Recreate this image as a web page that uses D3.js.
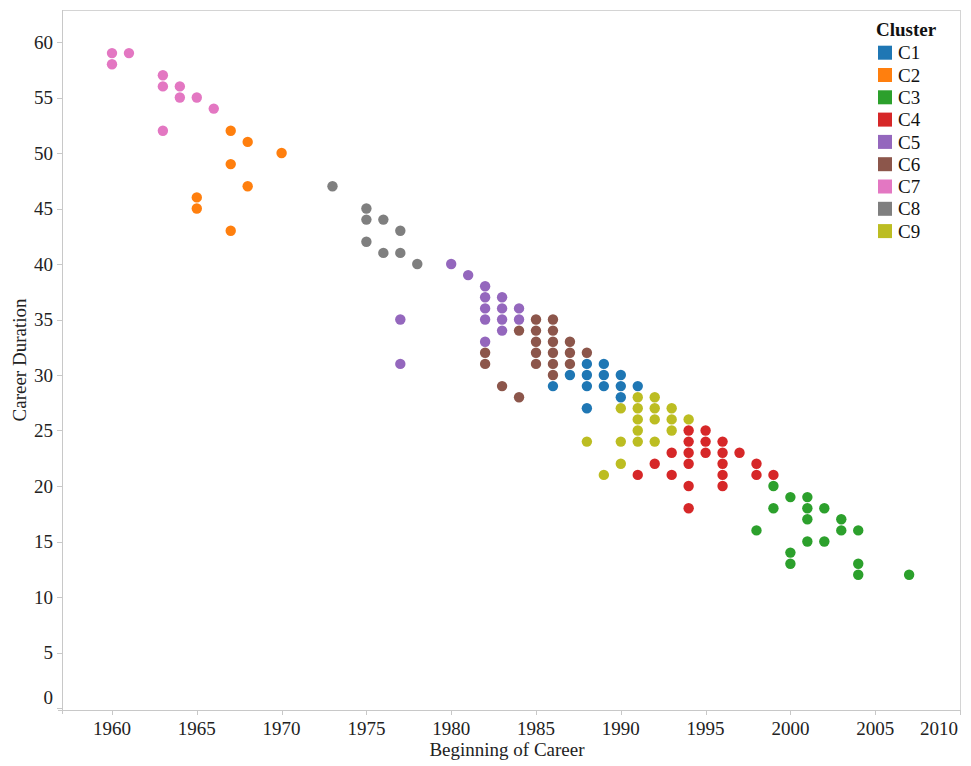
<!DOCTYPE html>
<html>
<head>
<meta charset="utf-8">
<script src="https://cdn.jsdelivr.net/npm/d3@7"></script>
<style>
  body { margin: 0; background: #fff; }
  svg text { font-family: "Liberation Serif", "Times New Roman", serif; }
</style>
</head>
<body>
<svg width="971" height="766"></svg>
<script>
const clusters = ["C1", "C2", "C3", "C4", "C5", "C6", "C7", "C8", "C9"];

// [beginning year, career duration] per cluster
const c1 = [[1986,29],[1987,30],[1988,27],[1988,29],[1988,30],[1988,31],[1989,29],[1989,30],[1989,31],[1990,28],[1990,29],[1990,30],[1991,29]];
const c2 = [[1965,46],[1965,45],[1967,52],[1967,49],[1967,43],[1968,51],[1968,47],[1970,50]];
const c3 = [[1998,16],[1999,20],[1999,18],[2000,19],[2000,14],[2000,13],[2001,19],[2001,18],[2001,17],[2001,15],[2002,18],[2002,15],[2003,17],[2003,16],[2004,16],[2004,13],[2004,12],[2007,12]];
const c4 = [[1991,21],[1992,22],[1993,23],[1993,21],[1994,25],[1994,24],[1994,23],[1994,22],[1994,20],[1994,18],[1995,25],[1995,24],[1995,23],[1996,24],[1996,23],[1996,22],[1996,21],[1996,20],[1997,23],[1998,22],[1998,21],[1999,21]];
const c5 = [[1977,35],[1977,31],[1980,40],[1981,39],[1982,38],[1982,37],[1982,36],[1982,35],[1982,33],[1983,37],[1983,36],[1983,35],[1983,34],[1984,36],[1984,35]];
const c6 = [[1982,32],[1982,31],[1983,29],[1984,34],[1984,28],[1985,35],[1985,34],[1985,33],[1985,32],[1985,31],[1986,35],[1986,34],[1986,33],[1986,32],[1986,31],[1986,30],[1987,33],[1987,32],[1987,31],[1988,32]];
const c7 = [[1960,59],[1960,58],[1961,59],[1963,57],[1963,56],[1963,52],[1964,56],[1964,55],[1965,55],[1966,54]];
const c8 = [[1973,47],[1975,45],[1975,44],[1975,42],[1976,44],[1976,41],[1977,43],[1977,41],[1978,40]];
const c9 = [[1988,24],[1989,21],[1990,27],[1990,24],[1990,22],[1991,28],[1991,27],[1991,26],[1991,25],[1991,24],[1992,28],[1992,27],[1992,26],[1992,24],[1993,27],[1993,26],[1993,25],[1994,26]];

const xTicks = [1960, 1965, 1970, 1975, 1980, 1985, 1990, 1995, 2000, 2005, 2010];
const yTicks = [0, 5, 10, 15, 20, 25, 30, 35, 40, 45, 50, 55, 60];

const series = [c1, c2, c3, c4, c5, c6, c7, c8, c9];
const points = [];
series.forEach((s, i) => s.forEach(p => points.push({ year: p[0], dur: p[1], cluster: clusters[i] })));

const svg = d3.select("svg");
const plotL = 62, plotR = 960, plotT = 10, plotB = 710;

const x = d3.scaleLinear().domain([1960, 2010]).range([112, 960]);
const y = d3.scaleLinear().domain([0, 60]).range([708, 42]);
const color = d3.scaleOrdinal().domain(clusters).range(d3.schemeCategory10);

// frame
svg.append("line").attr("x1", plotL).attr("x2", plotR).attr("y1", plotT + 0.5).attr("y2", plotT + 0.5)
  .attr("stroke", "#d4d4d4");
svg.append("line").attr("x1", plotR + 0.5).attr("x2", plotR + 0.5).attr("y1", plotT).attr("y2", plotB)
  .attr("stroke", "#d4d4d4");

// x axis
const xAxis = svg.append("g").attr("transform", `translate(0,${plotB})`);
xAxis.append("line").attr("x1", plotL - 4).attr("x2", plotR).attr("y1", 0.5).attr("y2", 0.5)
  .attr("stroke", "#c8c8c8");
xAxis.selectAll(".tick").data(xTicks).enter().append("line")
  .attr("x1", d => Math.round(x(d)) + 0.5).attr("x2", d => Math.round(x(d)) + 0.5)
  .attr("y1", 0).attr("y2", 5).attr("stroke", "#c8c8c8");
const lastX = xTicks[xTicks.length - 1];
xAxis.selectAll("text").data(xTicks).enter().append("text")
  .attr("x", d => d === lastX ? x(d) - 2 : x(d)).attr("y", 25)
  .attr("text-anchor", d => d === lastX ? "end" : "middle")
  .attr("font-size", 19).attr("fill", "#222")
  .text(d => d);

// y axis
const yAxis = svg.append("g").attr("transform", `translate(${plotL},0)`);
yAxis.append("line").attr("x1", 0.5).attr("x2", 0.5).attr("y1", plotT).attr("y2", plotB + 4)
  .attr("stroke", "#c8c8c8");
yAxis.selectAll(".tick").data(yTicks).enter().append("line")
  .attr("x1", -5).attr("x2", 0)
  .attr("y1", d => Math.round(y(d)) + 0.5).attr("y2", d => Math.round(y(d)) + 0.5)
  .attr("stroke", "#c8c8c8");
yAxis.selectAll("text").data(yTicks).enter().append("text")
  .attr("x", -9).attr("y", d => d === 0 ? 704 : y(d))
  .attr("dy", d => d === 0 ? 0 : "0.35em")
  .attr("text-anchor", "end").attr("font-size", 19).attr("fill", "#222")
  .text(d => d);

// axis titles
svg.append("text").attr("x", 507).attr("y", 756)
  .attr("text-anchor", "middle").attr("font-size", 19).attr("fill", "#222")
  .text("Beginning of Career");
svg.append("text").attr("transform", `translate(26,360) rotate(-90)`)
  .attr("text-anchor", "middle").attr("font-size", 19).attr("fill", "#222")
  .text("Career Duration");

// points
svg.append("g").selectAll("circle").data(points).enter().append("circle")
  .attr("cx", d => x(d.year)).attr("cy", d => y(d.dur))
  .attr("r", 5.2)
  .attr("fill", d => color(d.cluster));

// legend
const legend = svg.append("g").attr("transform", "translate(876,0)");
legend.append("text").attr("x", 0).attr("y", 36)
  .attr("font-size", 19).attr("font-weight", "bold").attr("fill", "#111")
  .text("Cluster");
const rows = legend.selectAll(".row").data(clusters).enter().append("g")
  .attr("transform", (d, i) => `translate(0,${52.7 + i * 22.3})`);
rows.append("rect").attr("x", 2).attr("y", -7).attr("width", 14).attr("height", 14)
  .attr("fill", d => color(d));
rows.append("text").attr("x", 22).attr("y", 0).attr("dy", "0.35em")
  .attr("font-size", 19).attr("fill", "#111")
  .text(d => d);
</script>
</body>
</html>
